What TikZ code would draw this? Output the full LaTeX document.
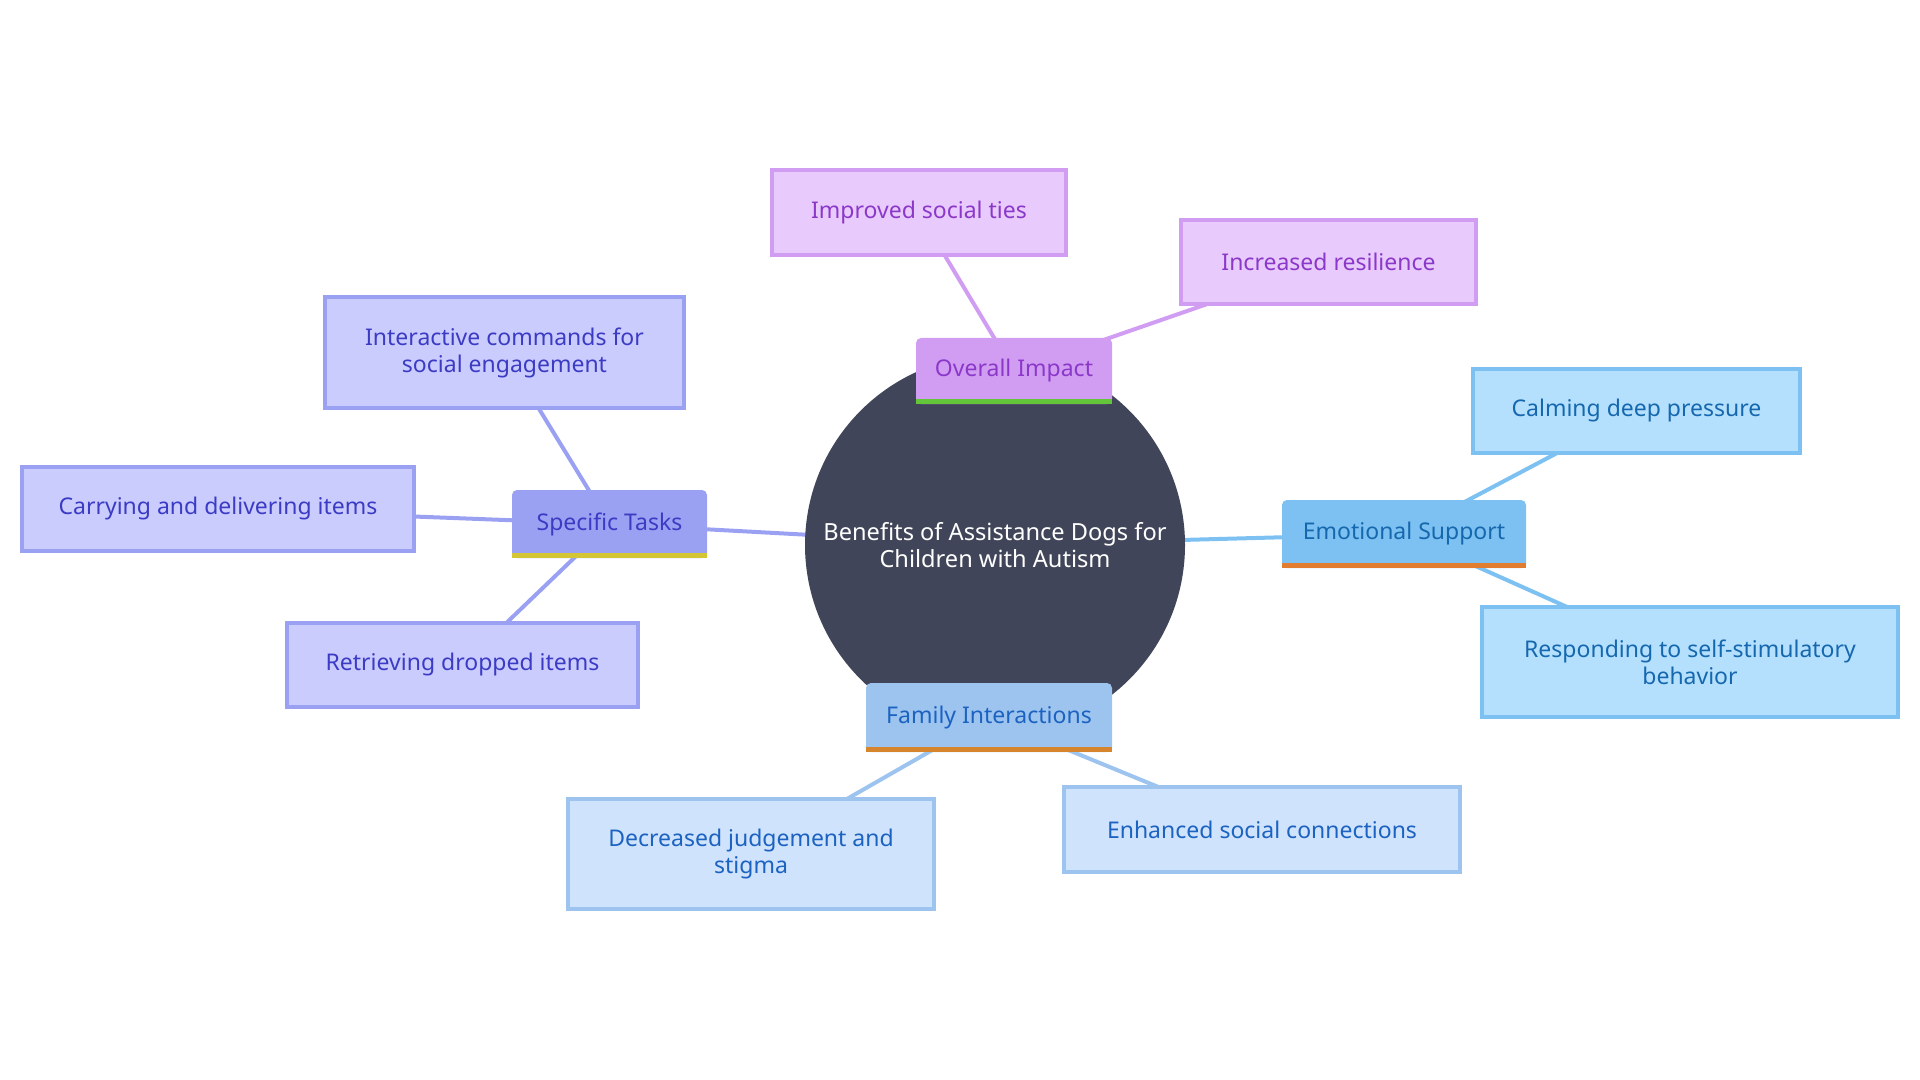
\documentclass[tikz,border=0pt]{standalone}
\usepackage{fontspec}
\setmainfont{Noto Sans}
\usetikzlibrary{backgrounds}

\definecolor{hubfill}{HTML}{414559}
\definecolor{impactfill}{HTML}{D19DF3}
\definecolor{impactleaf}{HTML}{E8CBFC}
\definecolor{impacttext}{HTML}{8B38C9}
\definecolor{impactbar}{HTML}{62C53A}
\definecolor{tasksfill}{HTML}{9BA1F2}
\definecolor{tasksleaf}{HTML}{CBCCFE}
\definecolor{taskstext}{HTML}{3B3BC4}
\definecolor{tasksbar}{HTML}{D4C534}
\definecolor{emofill}{HTML}{7CC1F1}
\definecolor{emoleaf}{HTML}{B4E0FE}
\definecolor{emotext}{HTML}{1668AE}
\definecolor{emobar}{HTML}{E17D31}
\definecolor{familyfill}{HTML}{9DC4EF}
\definecolor{familyleaf}{HTML}{CFE3FC}
\definecolor{familytext}{HTML}{1C62C0}
\definecolor{familybar}{HTML}{D7852C}

\tikzset{
  hub/.style={circle, fill=hubfill, text=white, minimum size=190pt,
    inner sep=0pt, align=center, font=\fontsize{11.8}{13.5}\selectfont},
  branch/.style={rounded corners=2.5pt, fill=#1fill, text=#1text,
    font=\fontsize{11.5}{13.5}\selectfont},
  leaf/.style={draw=#1fill, fill=#1leaf, text=#1text, line width=2pt,
    align=center, font=\fontsize{11.5}{13.5}\selectfont},
  link/.style={draw=#1fill, line width=2pt}
}

\begin{document}
\begin{tikzpicture}[x=0.5pt, y=-0.5pt]
  \useasboundingbox (0,0) rectangle (1920,1080);

  \path (995,545) node[hub] (root) {Benefits of Assistance Dogs for\\Children with Autism};

  % main branches
  \path (1014,371)  node[branch=impact, minimum width=98pt, minimum height=33pt] (impact) {Overall Impact}
        (609.5,524) node[branch=tasks, minimum width=97.5pt, minimum height=34pt] (tasks) {Specific Tasks}
        (1404,534)  node[branch=emo, minimum width=122pt, minimum height=34pt] (emo) {Emotional Support}
        (989,717.5) node[branch=family, minimum width=123pt, minimum height=34.5pt] (family) {Family Interactions};

  \foreach \b in {impact, tasks, emo, family}
    \fill[\b bar] (\b.south west) rectangle ([yshift=2.5pt]\b.south east);

  % leaves
  \path (919,212.5)  node[leaf=impact, minimum width=147pt, minimum height=42.5pt] (ties) {Improved social ties}
        (1328.5,262) node[leaf=impact, minimum width=147.5pt, minimum height=42pt] (resil) {Increased resilience}
        (504.5,352.5) node[leaf=tasks, minimum width=179.5pt, minimum height=55.5pt] (cmds) {Interactive commands for\\social engagement}
        (218,509)    node[leaf=tasks, minimum width=196pt, minimum height=42pt] (carry) {Carrying and delivering items}
        (462.5,665)  node[leaf=tasks, minimum width=175.5pt, minimum height=42pt] (retrieve) {Retrieving dropped items}
        (1636.5,411) node[leaf=emo, minimum width=163.5pt, minimum height=42pt] (calm) {Calming deep pressure}
        (1690,662)   node[leaf=emo, minimum width=208pt, minimum height=55pt] (stim) {Responding to self-stimulatory\\behavior}
        (751,854)    node[leaf=family, minimum width=183pt, minimum height=55pt] (stigma) {Decreased judgement and\\stigma}
        (1262,829.5) node[leaf=family, minimum width=198pt, minimum height=42.5pt] (connect) {Enhanced social connections};

  \begin{scope}[on background layer]
    \draw[link=impact] (root.center) -- (impact.center);
    \draw[link=tasks] (root.center) -- (tasks.center);
    \draw[link=emo] (root.center) -- (emo.center);
    \draw[link=family] (root.center) -- (family.center);
    \draw[link=impact] (impact.center) -- (ties.center);
    \draw[link=impact] (impact.center) -- (resil.center);
    \draw[link=tasks] (tasks.center) -- (cmds.center);
    \draw[link=tasks] (tasks.center) -- (carry.center);
    \draw[link=tasks] (tasks.center) -- (retrieve.center);
    \draw[link=emo] (emo.center) -- (calm.center);
    \draw[link=emo] (emo.center) -- (stim.center);
    \draw[link=family] (family.center) -- (stigma.center);
    \draw[link=family] (family.center) -- (connect.center);
  \end{scope}
\end{tikzpicture}
\end{document}
